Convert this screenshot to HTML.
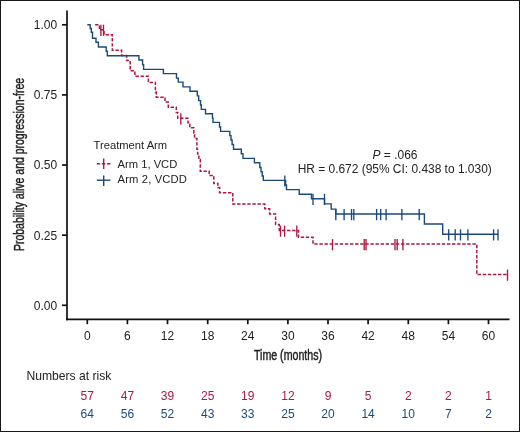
<!DOCTYPE html>
<html><head><meta charset="utf-8"><style>
html,body{margin:0;padding:0;background:#fff;}
body{width:520px;height:432px;overflow:hidden;}
.wrap{position:relative;width:518px;height:430px;border:1px solid #1a1a1a;background:#fff;}
svg{position:absolute;left:-1px;top:-1px;will-change:transform;font-family:"Liberation Sans",sans-serif;}
</style></head><body><div class="wrap">
<svg width="520" height="432" viewBox="0 0 520 432">
<path d="M95.1,24.7H99.4V29.7H104.0V34.7H112.3V50.3H121.6V55.6H126.6V60.6H130.2V70.8H134.9V76.2H148.4V82.4H155.4V92.0H156.3V97.2H165.0V102.1H168.3V107.3H176.3V112.5H177.7V118.2H188.0V122.8H189.8V127.8H193.8V133.0H194.6V138.6H196.9V149.2H197.6V154.0H198.9V159.5H200.3V171.3H209.2V175.6H213.8V183.5H217.9V187.6H219.6V192.7H232.8V204.0H264.8V208.8H269.6V214.0H275.6V224.5H279.3V230.6H298.5V237.3H313.0V244.1H476.8V274.6H507.5" fill="none" stroke="#ad1740" stroke-width="1.5" stroke-dasharray="3.4 1.7"/>
<g stroke="#ad1740" stroke-width="1.35"><line x1="100.9" y1="24.7" x2="100.9" y2="35.9"/><line x1="103.5" y1="24.7" x2="103.5" y2="35.9"/><line x1="180.8" y1="113.2" x2="180.8" y2="124.4"/><line x1="280.5" y1="225.6" x2="280.5" y2="236.8"/><line x1="284.6" y1="225.6" x2="284.6" y2="236.8"/><line x1="296.8" y1="225.6" x2="296.8" y2="236.8"/><line x1="332.5" y1="239.1" x2="332.5" y2="250.3"/><line x1="364.2" y1="239.1" x2="364.2" y2="250.3"/><line x1="366.0" y1="239.1" x2="366.0" y2="250.3"/><line x1="395.0" y1="239.1" x2="395.0" y2="250.3"/><line x1="397.2" y1="239.1" x2="397.2" y2="250.3"/><line x1="402.9" y1="239.1" x2="402.9" y2="250.3"/><line x1="507.5" y1="269.6" x2="507.5" y2="280.8"/></g>
<path d="M87.3,24.7H90.2V28.5H91.3V32.3H92.5V38.2H96.0V42.2H98.4V47.0H106.2V51.3H107.3V55.7H138.9V60.0H142.6V64.6H143.6V69.4H163.4V73.6H176.5V78.1H178.3V82.1H183.0V86.9H190.0V91.3H197.3V95.9H198.7V100.6H200.5V105.0H201.3V109.4H205.5V113.7H212.5V118.1H213.0V122.4H219.5V127.0H220.6V131.4H229.8V135.6H231.0V140.0H232.1V144.5H233.5V149.2H241.3V153.8H243.0V158.4H254.4V162.8H259.8V167.5H261.0V171.8H262.2V176.0H263.3V180.4H285.6V185.0H286.5V189.6H299.2V194.2H311.5V198.8H324.5V203.9H331.2V209.1H335.8V214.0H424.4V224.0H442.7V234.3H498.3" fill="none" stroke="#1a4a7b" stroke-width="1.4"/>
<g stroke="#1a4a7b" stroke-width="1.35"><line x1="284.8" y1="175.4" x2="284.8" y2="186.6"/><line x1="313.0" y1="193.8" x2="313.0" y2="205.0"/><line x1="324.5" y1="193.8" x2="324.5" y2="205.0"/><line x1="335.8" y1="209.0" x2="335.8" y2="220.2"/><line x1="344.1" y1="209.0" x2="344.1" y2="220.2"/><line x1="351.5" y1="209.0" x2="351.5" y2="220.2"/><line x1="353.8" y1="209.0" x2="353.8" y2="220.2"/><line x1="376.6" y1="209.0" x2="376.6" y2="220.2"/><line x1="380.7" y1="209.0" x2="380.7" y2="220.2"/><line x1="386.1" y1="209.0" x2="386.1" y2="220.2"/><line x1="401.9" y1="209.0" x2="401.9" y2="220.2"/><line x1="419.2" y1="209.0" x2="419.2" y2="220.2"/><line x1="448.7" y1="229.3" x2="448.7" y2="240.5"/><line x1="455.2" y1="229.3" x2="455.2" y2="240.5"/><line x1="460.5" y1="229.3" x2="460.5" y2="240.5"/><line x1="467.9" y1="229.3" x2="467.9" y2="240.5"/><line x1="493.6" y1="229.3" x2="493.6" y2="240.5"/><line x1="498.0" y1="229.3" x2="498.0" y2="240.5"/></g>
<g stroke="#111" stroke-width="1.7"><line x1="67" y1="10.5" x2="67" y2="320.2" /><line x1="66" y1="319.4" x2="509.5" y2="319.4" /><line x1="62" y1="24.8" x2="67" y2="24.8"/><line x1="62" y1="94.9" x2="67" y2="94.9"/><line x1="62" y1="165.0" x2="67" y2="165.0"/><line x1="62" y1="235.2" x2="67" y2="235.2"/><line x1="62" y1="305.3" x2="67" y2="305.3"/><line x1="87.3" y1="319" x2="87.3" y2="324.2"/><line x1="127.4" y1="319" x2="127.4" y2="324.2"/><line x1="167.5" y1="319" x2="167.5" y2="324.2"/><line x1="207.7" y1="319" x2="207.7" y2="324.2"/><line x1="247.8" y1="319" x2="247.8" y2="324.2"/><line x1="287.9" y1="319" x2="287.9" y2="324.2"/><line x1="328.0" y1="319" x2="328.0" y2="324.2"/><line x1="368.1" y1="319" x2="368.1" y2="324.2"/><line x1="408.3" y1="319" x2="408.3" y2="324.2"/><line x1="448.4" y1="319" x2="448.4" y2="324.2"/><line x1="488.5" y1="319" x2="488.5" y2="324.2"/></g>
<g font-size="12" fill="#222"><text x="57.1" y="29.1" text-anchor="end">1.00</text><text x="57.1" y="99.2" text-anchor="end">0.75</text><text x="57.1" y="169.3" text-anchor="end">0.50</text><text x="57.1" y="239.5" text-anchor="end">0.25</text><text x="57.1" y="309.6" text-anchor="end">0.00</text><text x="87.3" y="339.8" text-anchor="middle">0</text><text x="127.4" y="339.8" text-anchor="middle">6</text><text x="167.5" y="339.8" text-anchor="middle">12</text><text x="207.7" y="339.8" text-anchor="middle">18</text><text x="247.8" y="339.8" text-anchor="middle">24</text><text x="287.9" y="339.8" text-anchor="middle">30</text><text x="328.0" y="339.8" text-anchor="middle">36</text><text x="368.1" y="339.8" text-anchor="middle">42</text><text x="408.3" y="339.8" text-anchor="middle">48</text><text x="448.4" y="339.8" text-anchor="middle">54</text><text x="488.5" y="339.8" text-anchor="middle">60</text></g>
<text transform="translate(288,360.4) scale(0.76,1)" text-anchor="middle" font-size="14" fill="#222" stroke="#222" stroke-width="0.45">Time (months)</text>
<text transform="translate(23.5,164.5) rotate(-90) scale(0.75,1)" text-anchor="middle" font-size="14" fill="#222" stroke="#222" stroke-width="0.45">Probability alive and progression-free</text>
<text x="93.6" y="149.1" font-size="11.2" fill="#222">Treatment Arm</text>
<text x="117.6" y="168" font-size="11.2" fill="#222">Arm 1, VCD</text>
<text x="117.6" y="183" font-size="11.2" letter-spacing="0.15" fill="#222">Arm 2, VCDD</text>
<line x1="96.8" y1="163.7" x2="110.4" y2="163.7" stroke="#ad1740" stroke-width="1.4" stroke-dasharray="3.4 1.7"/>
<line x1="103.7" y1="158.6" x2="103.7" y2="169.1" stroke="#ad1740" stroke-width="1.4"/>
<line x1="96.8" y1="180.2" x2="110.4" y2="180.2" stroke="#1a4a7b" stroke-width="1.4"/>
<line x1="103.7" y1="175.5" x2="103.7" y2="186" stroke="#1a4a7b" stroke-width="1.4"/>
<text x="395" y="159.0" text-anchor="middle" font-size="12" fill="#222"><tspan font-style="italic">P</tspan> = .066</text>
<text x="394.7" y="172.9" text-anchor="middle" font-size="11.95" fill="#222">HR = 0.672 (95% CI: 0.438 to 1.030)</text>
<text x="26.4" y="380.4" font-size="12.15" fill="#222">Numbers at risk</text>
<g font-size="12" text-anchor="middle" fill="#ad1740"><text x="87.3" y="399.5">57</text><text x="127.4" y="399.5">47</text><text x="167.5" y="399.5">39</text><text x="207.7" y="399.5">25</text><text x="247.8" y="399.5">19</text><text x="287.9" y="399.5">12</text><text x="328.0" y="399.5">9</text><text x="368.1" y="399.5">5</text><text x="408.3" y="399.5">2</text><text x="448.4" y="399.5">2</text><text x="488.5" y="399.5">1</text></g>
<g font-size="12" text-anchor="middle" fill="#1a4a7b"><text x="87.3" y="418">64</text><text x="127.4" y="418">56</text><text x="167.5" y="418">52</text><text x="207.7" y="418">43</text><text x="247.8" y="418">33</text><text x="287.9" y="418">25</text><text x="328.0" y="418">20</text><text x="368.1" y="418">14</text><text x="408.3" y="418">10</text><text x="448.4" y="418">7</text><text x="488.5" y="418">2</text></g>
</svg></div></body></html>
